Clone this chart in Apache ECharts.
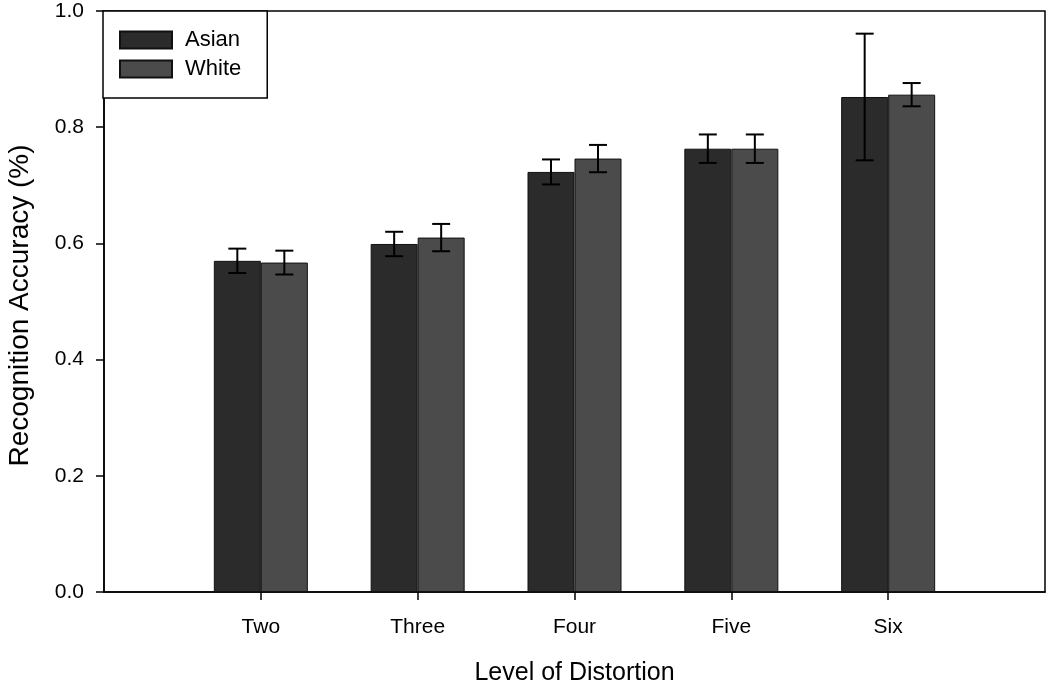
<!DOCTYPE html>
<html>
<head>
<meta charset="utf-8">
<script src="https://cdn.jsdelivr.net/npm/echarts@6/dist/echarts.min.js"></script>
<style>
html,body{margin:0;padding:0;background:#fff;}
#chart{width:1050px;height:684px;}
</style>
</head>
<body>
<div id="chart"></div>
<script>
// ---- data ----
var categories = ['Two', 'Three', 'Four', 'Five', 'Six'];
var asianMean = [0.570, 0.599, 0.723, 0.763, 0.852];
var asianErr  = [0.021, 0.021, 0.0215, 0.0245, 0.109];
var whiteMean = [0.567, 0.610, 0.746, 0.763, 0.856];
var whiteErr  = [0.0205, 0.0235, 0.0235, 0.0245, 0.020];
var yTicks = [0.0, 0.2, 0.4, 0.6, 0.8, 1.0];

// ---- build ----
var FONT = 'Liberation Sans, Arial, sans-serif';
var BAR_W = 47;
var axisCats = [''].concat(categories).concat(['']);
function pad(arr) { return ['-'].concat(arr).concat(['-']); }
function errData(mean, err) {
  return mean.map(function (m, i) { return [i + 1, m, err[i]]; });
}
function errRender(offset) {
  return function (params, api) {
    var x = api.value(0), m = api.value(1), e = api.value(2);
    var top = api.coord([x, m + e]);
    var bot = api.coord([x, m - e]);
    var cx = top[0] + offset;
    var half = 9;
    var st = { stroke: '#000', lineWidth: 2 };
    return {
      type: 'group',
      children: [
        { type: 'line', shape: { x1: cx, y1: top[1], x2: cx, y2: bot[1] }, style: st },
        { type: 'line', shape: { x1: cx - half, y1: top[1], x2: cx + half, y2: top[1] }, style: st },
        { type: 'line', shape: { x1: cx - half, y1: bot[1], x2: cx + half, y2: bot[1] }, style: st }
      ]
    };
  };
}

var chart = echarts.init(document.getElementById('chart'));
chart.setOption({
  animation: false,
  backgroundColor: '#fff',
  textStyle: { fontFamily: FONT, color: '#000' },
  grid: {
    left: 104, right: 5, top: 11, bottom: 92,
    outerBoundsMode: 'none', containLabel: false,
    show: true, borderColor: '#000', borderWidth: 1.5, backgroundColor: 'transparent'
  },
  legend: {
    left: 103, top: 11,
    orient: 'vertical',
    icon: 'rect',
    itemWidth: 52, itemHeight: 17, itemGap: 5,
    padding: [17, 26, 17, 16],
    borderColor: '#000', borderWidth: 1.5, backgroundColor: '#fff',
    textStyle: { fontFamily: FONT, fontSize: 22, color: '#000', lineHeight: 24, padding: [0, 0, 0, 8] },
    data: ['Asian', 'White']
  },
  xAxis: {
    type: 'category',
    data: axisCats,
    boundaryGap: false,
    name: 'Level of Distortion',
    nameLocation: 'middle',
    nameGap: 69,
    nameTextStyle: { fontFamily: FONT, fontSize: 25, color: '#000' },
    axisLine: { show: true, lineStyle: { color: '#000', width: 1.5 } },
    axisTick: { show: true, length: 8, lineStyle: { color: '#000', width: 1.5 },
      interval: function (idx, val) { return val !== ''; } },
    axisLabel: { fontFamily: FONT, fontSize: 21, color: '#000', margin: 25, interval: 0 },
    splitLine: { show: false }
  },
  yAxis: {
    type: 'value',
    min: yTicks[0], max: yTicks[yTicks.length - 1], interval: 0.2,
    name: 'Recognition Accuracy (%)',
    nameLocation: 'middle',
    nameGap: 70,
    nameTextStyle: { fontFamily: FONT, fontSize: 28, color: '#000', padding: [0, 8, 0, 0] },
    axisLine: { show: true, lineStyle: { color: '#000', width: 1.5 } },
    axisTick: { show: true, length: 8, lineStyle: { color: '#000', width: 1.5 } },
    axisLabel: { fontFamily: FONT, fontSize: 21, color: '#000', margin: 20,
      formatter: function (v) { return v.toFixed(1); } },
    splitLine: { show: false }
  },
  series: [
    {
      name: 'Asian', type: 'bar', data: pad(asianMean),
      barWidth: BAR_W, barGap: '0%',
      itemStyle: { color: '#2b2b2b', borderColor: '#111', borderWidth: 1 }
    },
    {
      name: 'White', type: 'bar', data: pad(whiteMean),
      barWidth: BAR_W, barGap: '0%',
      itemStyle: { color: '#4b4b4b', borderColor: '#111', borderWidth: 1 }
    },
    {
      type: 'custom', name: 'AsianErr', data: errData(asianMean, asianErr),
      renderItem: errRender(-BAR_W / 2), z: 10, encode: { x: 0, y: 1 }, silent: true
    },
    {
      type: 'custom', name: 'WhiteErr', data: errData(whiteMean, whiteErr),
      renderItem: errRender(BAR_W / 2), z: 10, encode: { x: 0, y: 1 }, silent: true
    }
  ]
});
</script>
</body>
</html>
